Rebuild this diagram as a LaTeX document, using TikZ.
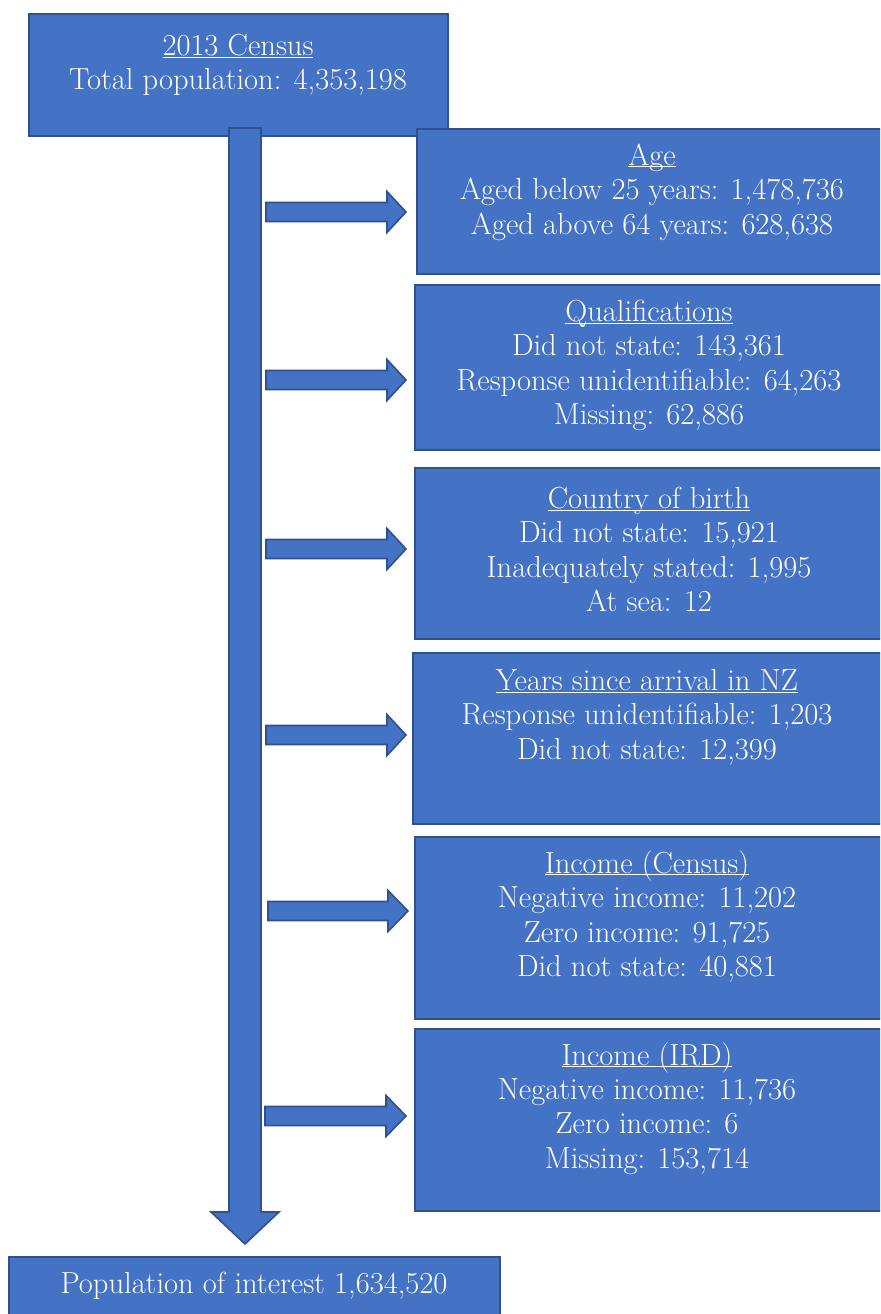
\documentclass[tikz,border=0pt]{standalone}
\usepackage{xcolor}
\definecolor{boxfill}{HTML}{4472C4}
\definecolor{boxline}{HTML}{2F528F}
\newcommand\hblock[4]{%
  \draw[blk] (#1,{#4-9.5}) -- (#2,{#4-9.5}) -- (#2,{#4-20.5}) -- (#3,#4)
    -- (#2,{#4+20.5}) -- (#2,{#4+9.5}) -- (#1,{#4+9.5}) -- cycle;}
\newcommand\ulhead[1]{\underline{\smash{#1}}\vphantom{Ag}}
\begin{document}
\begin{tikzpicture}[x=1bp,y=-1bp,
  blk/.style={fill=boxfill,draw=boxline,line width=1.6bp,line join=miter},
  box/.style={blk,rectangle,inner sep=0,anchor=north west},
  txt/.style={text=white,align=center,inner sep=0,font=\fontsize{30.6}{34.5}\selectfont}]
\clip (0,0) rectangle (880,1314);
% top box
\node[box,minimum width=419bp,minimum height=122bp] (census) at (28,13) {};
\node[txt] (censust) at (238,65) {\ulhead{2013 Census}\\Total population: 4,353,198};
% main vertical block arrow
\draw[blk] (229,128) -- (261,128) -- (261,1212) -- (279,1212) -- (245,1244)
  -- (211,1212) -- (229,1212) -- cycle;
% right boxes
\node[box,minimum width=480bp,minimum height=145bp] (age) at (416,128) {};
\node[txt] (aget) at (652,192) {\ulhead{Age}\\Aged below 25 years: 1,478,736\\Aged above 64 years: 628,638};
\node[box,minimum width=480bp,minimum height=165bp] (qual) at (414,284) {};
\node[txt] (qualt) at (649,365.5) {\ulhead{Qualifications}\\Did not state: 143,361\\Response unidentifiable: 64,263\\Missing: 62,886};
\node[box,minimum width=480bp,minimum height=171bp] (cob) at (414,467) {};
\node[txt] (cobt) at (649,549.5) {\ulhead{Country of birth}\\Did not state: 15,921\\Inadequately stated: 1,995\\At sea: 12};
\node[box,minimum width=480bp,minimum height=171bp] (yrs) at (412,652) {};
\node[txt] (yrst) at (647,717) {\ulhead{Years since arrival in NZ}\\Response unidentifiable: 1,203\\Did not state: 12,399};
\node[box,minimum width=480bp,minimum height=182bp] (inc) at (414,836) {};
\node[txt] (inct) at (647,917) {\ulhead{Income (Census)}\\Negative income: 11,202\\Zero income: 91,725\\Did not state: 40,881};
\node[box,minimum width=480bp,minimum height=182bp] (ird) at (414,1028) {};
\node[txt] (irdt) at (647,1109) {\ulhead{Income (IRD)}\\Negative income: 11,736\\Zero income: 6\\Missing: 153,714};
% bottom box
\node[box,minimum width=491bp,minimum height=80bp] (pop) at (8,1256) {};
\node[txt] (popt) at (254,1286) {Population of interest 1,634,520};
% side block arrows
\hblock{266}{387}{406}{212}
\hblock{266}{387}{406}{380}
\hblock{266}{387}{406}{549}
\hblock{266}{387}{406}{735}
\hblock{268}{388}{408}{911}
\hblock{265}{386}{406}{1116}
\end{tikzpicture}
\end{document}
